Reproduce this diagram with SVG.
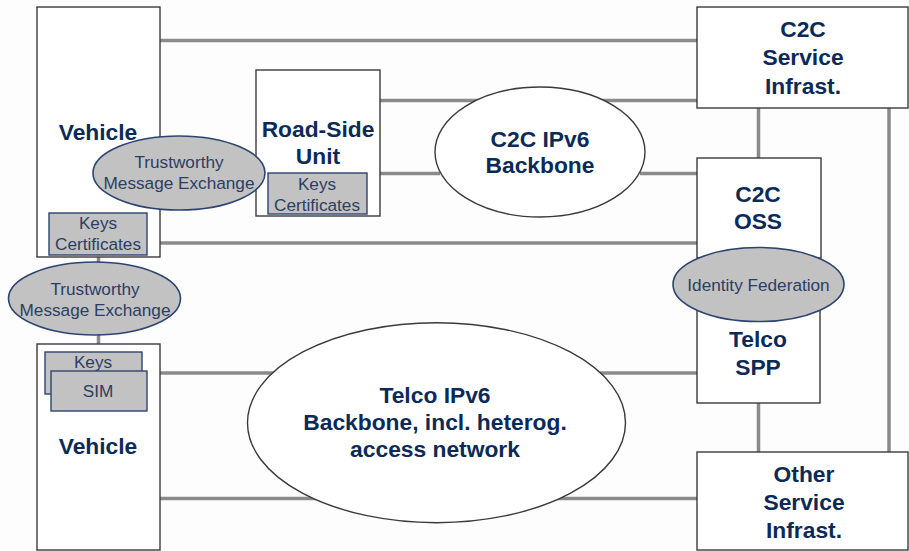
<svg xmlns="http://www.w3.org/2000/svg" width="909" height="551" viewBox="0 0 909 551">
  <style>
    .bg { fill: #fdfdfd; }
    .link { stroke: #8a8a8a; stroke-width: 3.5; fill: none; }
    .box { fill: #ffffff; stroke: #3a3a3a; stroke-width: 1.4; }
    .cloud { fill: #ffffff; stroke: #3a3a3a; stroke-width: 1.4; }
    .chip { fill: #c2c2c2; stroke: #2e4470; stroke-width: 1.4; }
    .oval { fill: #c2c2c2; stroke: #2e4470; stroke-width: 1.6; }
    .title { font-family: "Liberation Sans", Arial, sans-serif; font-weight: bold; font-size: 22.8px; fill: #0c2a58; text-anchor: middle; }
    .small { font-family: "Liberation Sans", Arial, sans-serif; font-size: 17.2px; fill: #2c3d64; text-anchor: middle; }
  </style>
  <rect class="bg" x="0" y="0" width="909" height="551"/>

  <g id="connectors">
    <line class="link" x1="160" y1="40.5" x2="697" y2="40.5"/>
    <line class="link" x1="380" y1="100.5" x2="697" y2="100.5"/>
    <line class="link" x1="380" y1="173.5" x2="440" y2="173.5"/>
    <line class="link" x1="640" y1="173.5" x2="697" y2="173.5"/>
    <line class="link" x1="160" y1="243" x2="697" y2="243"/>
    <line class="link" x1="758.5" y1="108" x2="758.5" y2="158"/>
    <line class="link" x1="889" y1="108" x2="889" y2="452"/>
    <line class="link" x1="758.5" y1="403" x2="758.5" y2="452"/>
    <line class="link" x1="98.5" y1="257" x2="98.5" y2="263"/>
    <line class="link" x1="98.5" y1="334" x2="98.5" y2="344"/>
    <line class="link" x1="160" y1="373" x2="280" y2="373"/>
    <line class="link" x1="600" y1="373" x2="697" y2="373"/>
    <line class="link" x1="160" y1="498.5" x2="697" y2="498.5"/>
  </g>

  <g id="vehicle-top">
    <rect class="box" x="37" y="7" width="123" height="250"/>
    <text class="title" x="98" y="140">Vehicle</text>
    <rect class="chip" x="49" y="213" width="98" height="42"/>
    <text class="small" x="98" y="229">Keys</text>
    <text class="small" x="98" y="250">Certificates</text>
  </g>

  <g id="road-side-unit">
    <rect class="box" x="256" y="70" width="124" height="146"/>
    <text class="title" x="318" y="137">Road-Side</text>
    <text class="title" x="318" y="164">Unit</text>
    <rect class="chip" x="268" y="173" width="99" height="41"/>
    <text class="small" x="317" y="190">Keys</text>
    <text class="small" x="317" y="211">Certificates</text>
  </g>

  <g id="trust-exchange-top">
    <ellipse class="oval" cx="179" cy="173" rx="86" ry="37"/>
    <text class="small" x="179" y="168">Trustworthy</text>
    <text class="small" x="179" y="189">Message Exchange</text>
  </g>

  <g id="c2c-backbone">
    <ellipse class="cloud" cx="540" cy="152" rx="105" ry="65"/>
    <text class="title" x="540" y="147">C2C IPv6</text>
    <text class="title" x="540" y="173">Backbone</text>
  </g>

  <g id="c2c-service">
    <rect class="box" x="697" y="7" width="211" height="101"/>
    <text class="title" x="803" y="37">C2C</text>
    <text class="title" x="803" y="65">Service</text>
    <text class="title" x="803" y="94">Infrast.</text>
  </g>

  <g id="c2c-oss">
    <rect class="box" x="697" y="158" width="124" height="100"/>
    <text class="title" x="758" y="202">C2C</text>
    <text class="title" x="758" y="229">OSS</text>
  </g>

  <g id="telco-spp">
    <rect class="box" x="697" y="300" width="123" height="103"/>
    <text class="title" x="758" y="347">Telco</text>
    <text class="title" x="758" y="375">SPP</text>
  </g>

  <g id="identity-federation">
    <ellipse class="oval" cx="758.5" cy="284.5" rx="85.5" ry="37"/>
    <text class="small" x="758.5" y="291">Identity Federation</text>
  </g>

  <g id="trust-exchange-bottom">
    <ellipse class="oval" cx="94.5" cy="298.5" rx="86" ry="36.5"/>
    <text class="small" x="95" y="295">Trustworthy</text>
    <text class="small" x="95" y="316">Message Exchange</text>
  </g>

  <g id="vehicle-bottom">
    <rect class="box" x="37" y="344" width="123" height="206"/>
    <rect class="chip" x="45" y="352" width="97" height="42"/>
    <text class="small" x="93" y="368">Keys</text>
    <rect class="chip" x="51" y="371" width="96" height="40"/>
    <text class="small" x="98" y="397">SIM</text>
    <text class="title" x="98" y="454">Vehicle</text>
  </g>

  <g id="telco-backbone">
    <ellipse class="cloud" cx="436.5" cy="422.7" rx="189" ry="100"/>
    <text class="title" x="435" y="403">Telco IPv6</text>
    <text class="title" x="435" y="430">Backbone, incl. heterog.</text>
    <text class="title" x="435" y="457">access network</text>
  </g>

  <g id="other-service">
    <rect class="box" x="697" y="452" width="211" height="98"/>
    <text class="title" x="804" y="482">Other</text>
    <text class="title" x="804" y="510">Service</text>
    <text class="title" x="804" y="538">Infrast.</text>
  </g>
</svg>
